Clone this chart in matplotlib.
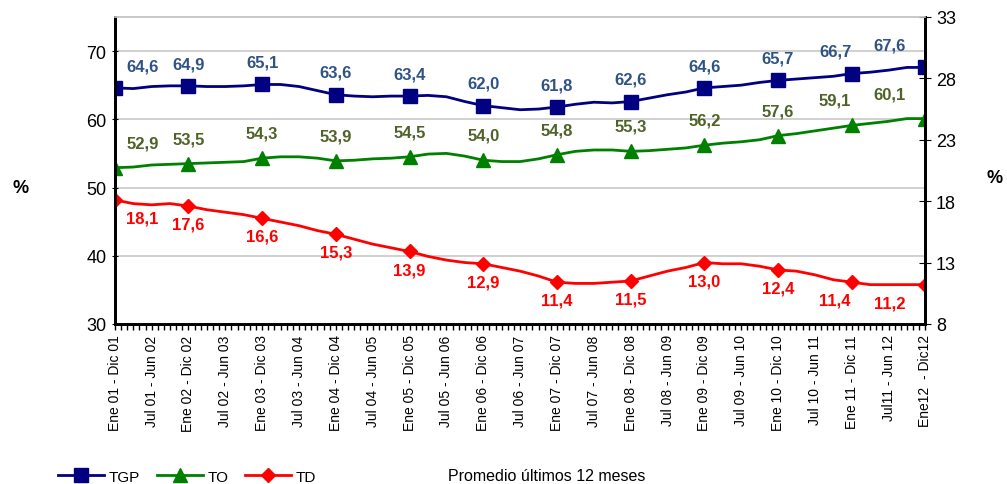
import matplotlib
matplotlib.use("Agg")
import matplotlib.pyplot as plt
import numpy as np

plt.rcParams['font.family'] = ['Liberation Sans', 'DejaVu Sans']

# month index of each rolling 12-month window (0 = Ene 01 - Dic 01), read every quarter
meses = np.arange(0, 133, 3)

tgp = [64.6, 64.5, 64.8, 64.9, 64.9, 64.8, 64.8, 64.9, 65.1, 65.1, 64.8, 64.2,
       63.6, 63.4, 63.3, 63.4, 63.4, 63.5, 63.3, 62.6, 62.0, 61.7, 61.4, 61.5,
       61.8, 62.2, 62.5, 62.4, 62.6, 63.1, 63.6, 64.0, 64.6, 64.8, 65.0, 65.4,
       65.7, 65.9, 66.1, 66.3, 66.7, 66.9, 67.2, 67.6, 67.6]
to = [52.9, 53.0, 53.3, 53.4, 53.5, 53.6, 53.7, 53.8, 54.3, 54.5, 54.5, 54.3,
      53.9, 54.0, 54.2, 54.3, 54.5, 54.9, 55.0, 54.6, 54.0, 53.8, 53.8, 54.2,
      54.8, 55.3, 55.5, 55.5, 55.3, 55.4, 55.6, 55.8, 56.2, 56.5, 56.7, 57.0,
      57.6, 57.9, 58.3, 58.7, 59.1, 59.4, 59.7, 60.1, 60.1]
td = [18.1, 17.8, 17.7, 17.8, 17.6, 17.3, 17.1, 16.9, 16.6, 16.3, 16.0, 15.6,
      15.3, 14.9, 14.5, 14.2, 13.9, 13.5, 13.2, 13.0, 12.9, 12.6, 12.3, 11.9,
      11.4, 11.3, 11.3, 11.4, 11.5, 11.9, 12.3, 12.6, 13.0, 12.9, 12.9, 12.7,
      12.4, 12.3, 12.0, 11.6, 11.4, 11.2, 11.2, 11.2, 11.2]

etiquetas = ["Ene 01 - Dic 01", "Jul 01 - Jun 02", "Ene 02 - Dic 02", "Jul 02 - Jun 03",
             "Ene 03 - Dic 03", "Jul 03 - Jun 04", "Ene 04 - Dic 04", "Jul 04 - Jun 05",
             "Ene 05 - Dic 05", "Jul 05 - Jun 06", "Ene 06 - Dic 06", "Jul 06 - Jun 07",
             "Ene 07 - Dic 07", "Jul 07 - Jun 08", "Ene 08 - Dic 08", "Jul 08 - Jun 09",
             "Ene 09 - Dic 09", "Jul 09 - Jun 10", "Ene 10 - Dic 10", "Jul 10 - Jun 11",
             "Ene 11 - Dic 11", "Jul11 - Jun 12", "Ene12  - Dic12"]

fig = plt.figure(figsize=(10.07, 4.85), dpi=100)
ax = fig.add_axes([0.114, 0.330, 0.805, 0.633])
ax2 = ax.twinx()

anual = slice(0, None, 4)  # one marker per year
l1, = ax.plot(meses, tgp, color='#000080', lw=2, marker='s', ms=9.5, markevery=anual, label='TGP')
l2, = ax.plot(meses, to, color='#008000', lw=2, marker='^', ms=9.5, markevery=anual, label='TO')
l3, = ax2.plot(meses, td, color='#FF0000', lw=2, marker='D', ms=7, markevery=anual, label='TD')

ax.set_xlim(0, 132)
ax.set_ylim(30, 75)
ax.set_yticks([30, 40, 50, 60, 70])
ax2.set_ylim(8, 33)
ax2.set_yticks([8, 13, 18, 23, 28, 33])

ax.set_xticks(np.arange(0, 133, 6))
ax.set_xticklabels(etiquetas, rotation=90, fontsize=10)
ax.set_xticks(np.arange(0, 133, 1), minor=True)
ax.tick_params(axis='x', which='both', length=4, width=1, direction='out', color='black')
ax.tick_params(axis='y', labelsize=13, length=5, direction='inout')
ax2.tick_params(axis='y', labelsize=13, length=8, direction='inout')

ax.grid(axis='y', color='#C8C8C8', lw=1.2)
ax.set_axisbelow(True)
for a in (ax, ax2):
    a.spines['left'].set_linewidth(2)
    a.spines['right'].set_linewidth(2)
    a.spines['bottom'].set_linewidth(2)
    a.spines['top'].set_color('#C8C8C8')
    a.spines['top'].set_linewidth(1.2)

fig.text(0.02, 0.612, '%', fontsize=13, fontweight='bold', ha='center', va='center')
fig.text(0.988, 0.632, '%', fontsize=13, fontweight='bold', ha='center', va='center')

# value labels, one per year
def etiquetar(axis, serie, color, dy):
    n = len(serie[anual])
    for k, (x, v) in enumerate(zip(meses[anual], serie[anual])):
        dx = 0
        if k == 0:
            dx = 20
        elif k == n - 1:
            dx = -26
        elif k == n - 2:
            dx = -12
        axis.annotate(f"{v:.1f}".replace('.', ','), (x, v), xytext=(dx, dy),
                      textcoords='offset points', ha='center', va='center',
                      fontsize=12, fontweight='bold', color=color)

etiquetar(ax, np.array(tgp), '#2F5385', 16)
etiquetar(ax, np.array(to), '#4F6228', 18)
etiquetar(ax2, np.array(td), '#FF0000', -13)

fig.legend(handles=[l1, l2, l3], loc='center left', bbox_to_anchor=(0.058, 0.015),
           ncol=3, frameon=False, fontsize=11, handlelength=3.0, handletextpad=0.3,
           columnspacing=1.1, borderpad=0, borderaxespad=0)
fig.text(0.543, 0.017, 'Promedio últimos 12 meses', fontsize=11.5, ha='center', va='center')

fig.savefig('out.png', dpi=100)
